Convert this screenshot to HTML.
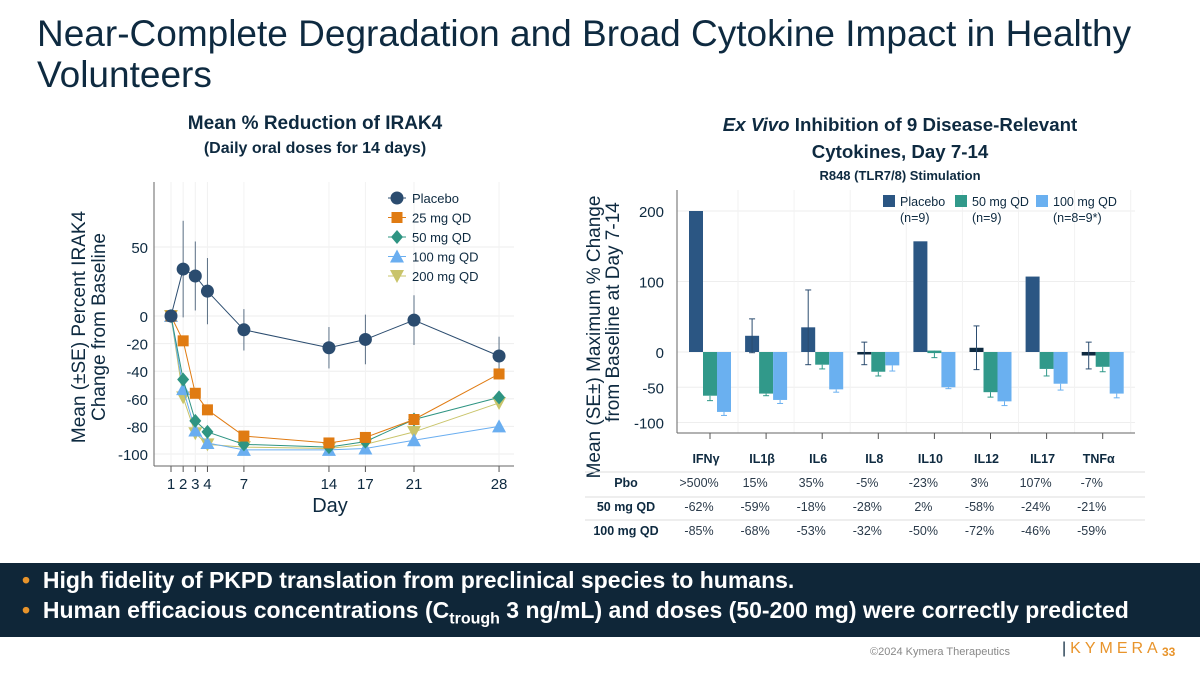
<!DOCTYPE html>
<html><head><meta charset="utf-8"><style>
body{margin:0;width:1200px;height:675px;overflow:hidden;background:#fff;font-family:"Liberation Sans",sans-serif;position:relative;color:#0e2a40}
.abs{position:absolute}
</style></head><body>
<div class="abs" style="left:37px;top:13px;font-size:37px;line-height:41px;color:#0e2a40;width:1150px">Near-Complete Degradation and Broad Cytokine Impact in Healthy Volunteers</div>
<div class="abs" style="left:140px;top:112px;width:350px;text-align:center;font-size:19px;font-weight:bold;line-height:24px">Mean % Reduction of IRAK4<br><span style="font-size:16px">(Daily oral doses for 14 days)</span></div>
<div class="abs" style="left:670px;top:111px;width:460px;text-align:center;font-size:18.7px;font-weight:bold;line-height:27px"><i>Ex Vivo</i> Inhibition of 9 Disease-Relevant<br>Cytokines, Day 7-14</div>
<div class="abs" style="left:690px;top:168px;width:420px;text-align:center;font-size:13px;font-weight:bold">R848 (TLR7/8) Stimulation</div>
<svg class="abs" style="left:0;top:0" width="1200" height="675" id="svg"></svg>
<div class="abs" style="left:0;top:563px;width:1200px;height:74px;background:#0f2638;color:#fff;font-weight:bold;font-size:23px">
<div style="position:absolute;left:22px;top:4px"><span style="color:#e8942b">•</span>&nbsp;&nbsp;High fidelity of PKPD translation from preclinical species to humans.</div>
<div style="position:absolute;left:22px;top:34px;white-space:nowrap"><span style="color:#e8942b">•</span>&nbsp;&nbsp;Human efficacious concentrations (C<sub style="font-size:16px">trough</sub> 3 ng/mL) and doses (50-200 mg) were correctly predicted</div>
</div>
<div class="abs" style="left:870px;top:646px;font-size:11px;color:#888">©2024 Kymera Therapeutics</div>
<div class="abs" style="left:1062px;top:640px;font-size:16px;letter-spacing:4px;color:#e8942b"><span style="color:#0e2a40">|</span>KYMERA</div>
<div class="abs" style="left:1162px;top:645px;font-size:12px;color:#e8942b;font-weight:bold">33</div>
<script>
const days=[1,2,3,4,7,14,17,21,28];
const placebo=[0,34,29,18,-10,-23,-17,-3,-29];
const placeboErr=[2,35,25,24,15,15,18,18,14];
const mg25=[0,-18,-56,-68,-87,-92,-88,-75,-42];
const mg50=[0,-46,-76,-84,-93,-95,-91,-75,-59];
const mg100=[0,-53,-83,-92,-97,-97,-96,-90,-80];
const mg200=[0,-59,-85,-93,-95,-96,-93,-84,-63];
const yTicksL=[50,0,-20,-40,-60,-80,-100];
const cats=["IFNγ","IL1β","IL6","IL8","IL10","IL12","IL17","TNFα"];
const cPbo=[200,23,35,-2,157,6,107,-5];
const cPboErr=[0,24,53,16,0,31,0,19];
const c50=[-62,-59,-18,-28,2,-57,-24,-21];
const c50Err=[7,3,6,6,10,7,10,7];
const c100=[-85,-68,-53,-19,-50,-70,-45,-59];
const c100Err=[5,5,4,8,2,6,9,6];
const yTicksR=[200,100,0,-50,-100];
const rowPbo=[">500%","15%","35%","-5%","-23%","3%","107%","-7%"];
const row50=["-62%","-59%","-18%","-28%","2%","-58%","-24%","-21%"];
const row100=["-85%","-68%","-53%","-32%","-50%","-72%","-46%","-59%"];

const svg=document.getElementById('svg');
const NS='http://www.w3.org/2000/svg';
function mk(t,a,p){const e=document.createElementNS(NS,t);for(const k in a)e.setAttribute(k,a[k]);(p||svg).appendChild(e);return e;}
function tx(x,y,s,a){const e=mk('text',Object.assign({x:x,y:y,'font-family':'Liberation Sans, sans-serif',fill:'#0e2a40'},a||{}));e.textContent=s;return e;}

// LEFT chart
const lx=d=>171+(d-1)*12.15, ly=v=>316-v*1.38;
const gL=mk('g',{});


yTicksL.forEach(v=>{mk('line',{x1:154,x2:514,y1:ly(v),y2:ly(v),stroke:'#eee'},gL);
 const t=tx(148,ly(v)+6,String(v),{'font-size':15,'text-anchor':'end'});gL.appendChild(t);
 });
days.forEach(d=>{mk('line',{x1:lx(d),x2:lx(d),y1:182,y2:466,stroke:'#f2f2f2'},gL);
 mk('line',{x1:lx(d),x2:lx(d),y1:466,y2:472,stroke:'#555'},gL);
 const t=tx(lx(d),489,String(d),{'font-size':15,'text-anchor':'middle'});gL.appendChild(t);
 });
mk('line',{x1:154,x2:154,y1:182,y2:466,stroke:'#666'},gL);
mk('line',{x1:154,x2:514,y1:466,y2:466,stroke:'#666'},gL);
const xt=tx(330,512,'Day',{'font-size':20,'text-anchor':'middle'});

const yt=tx(0,0,'Mean (±SE) Percent IRAK4',{'font-size':19,'text-anchor':'middle',transform:'translate(85,327) rotate(-90)'});

tx(0,0,'Change from Baseline',{'font-size':19,'text-anchor':'middle',transform:'translate(105,327) rotate(-90)'});
placebo.forEach((v,i)=>{mk('line',{x1:lx(days[i]),x2:lx(days[i]),y1:ly(v+placeboErr[i]),y2:ly(v-placeboErr[i]),stroke:'#5a6f85'},gL);});
function marker(shape,x,y,c,p){
 let e;
 if(shape=='circle')e=mk('circle',{cx:x,cy:y,r:6.5,fill:c},p);
 else if(shape=='square')e=mk('rect',{x:x-5.5,y:y-5.5,width:11,height:11,fill:c},p);
 else if(shape=='diamond')e=mk('polygon',{points:`${x},${y-7} ${x+6},${y} ${x},${y+7} ${x-6},${y}`,fill:c},p);
 else if(shape=='up')e=mk('polygon',{points:`${x},${y-7} ${x+7},${y+6} ${x-7},${y+6}`,fill:c},p);
 else e=mk('polygon',{points:`${x-7},${y-6} ${x+7},${y-6} ${x},${y+7}`,fill:c},p);
 return e;}
const series=[['placebo',placebo,'#2b4c6f','circle','Placebo'],['25mg',mg25,'#e07b12','square','25 mg QD'],['50mg',mg50,'#2e9482','diamond','50 mg QD'],['100mg',mg100,'#6aaef0','up','100 mg QD'],['200mg',mg200,'#c9c46a','down','200 mg QD']];
series.slice().reverse().forEach(s=>{
 const g=mk('g',{},gL);
 
 
 mk('polyline',{points:s[1].map((v,i)=>lx(days[i])+','+ly(v)).join(' '),fill:'none',stroke:s[2],'stroke-width':1},g);
 s[1].forEach((v,i)=>{const m=marker(s[3],lx(days[i]),ly(v),s[2],g);
  
  });
});
series.forEach((s,i)=>{const y=198+i*19.5;
 const g=mk('g',{},gL);
 
 
 mk('line',{x1:388,x2:406,y1:y,y2:y,stroke:s[2]},g);
 marker(s[3],397,y,s[2],g);
 const t=tx(412,y+5,s[4],{'font-size':13});g.appendChild(t);});

// RIGHT chart
const rx=i=>710+i*56.1, ry=v=>352-v*0.705, bw=14;
const gR=mk('g',{});


yTicksR.forEach(v=>{mk('line',{x1:677,x2:1135,y1:ry(v),y2:ry(v),stroke:'#eee'},gR);
 const t=tx(664,ry(v)+6,String(v),{'font-size':15,'text-anchor':'end'});gR.appendChild(t);
 });
cats.forEach((c,i)=>mk('line',{x1:rx(i)+28,x2:rx(i)+28,y1:190,y2:433,stroke:'#f2f2f2'},gR));
mk('line',{x1:677,x2:677,y1:190,y2:433,stroke:'#666'},gR);
mk('line',{x1:677,x2:1135,y1:433,y2:433,stroke:'#666'},gR);
const ry1=tx(0,0,'Mean (SE±) Maximum % Change',{'font-size':19,'text-anchor':'middle',transform:'translate(600,337) rotate(-90)'});

tx(0,0,'from Baseline at Day 7-14',{'font-size':19,'text-anchor':'middle',transform:'translate(619,312) rotate(-90)'});
const bs=[['placebo',cPbo,cPboErr,'#2b5683',-1],['50mg',c50,c50Err,'#31998a',0],['100mg',c100,c100Err,'#6ab0f0',1]];
cats.forEach((c,i)=>{
 mk('line',{x1:rx(i),x2:rx(i),y1:433,y2:439,stroke:'#555'},gR);
 bs.forEach(b=>{const v=b[1][i],x=rx(i)+b[4]*bw-bw/2;
  const h=Math.max(Math.abs(ry(v)-ry(0)),2.5);
  const r=mk('rect',{x:x,y:v>=0?ry(v):ry(0),width:bw,height:h,fill:b[0]=='placebo'&&Math.abs(v)<8?'#0e2a40':b[3]},gR);
  
  
  const e=b[2][i];if(e>0){const ec=b[0]=='placebo'?'#2b4c6f':b[3];const cx=x+bw/2;
   mk('line',{x1:cx,x2:cx,y1:ry(b[0]=='placebo'?v+e:v),y2:ry(v-e),stroke:ec},gR);
   mk('line',{x1:cx-3,x2:cx+3,y1:ry(v-e),y2:ry(v-e),stroke:ec},gR);
   if(b[0]=='placebo')mk('line',{x1:cx-3,x2:cx+3,y1:ry(v+e),y2:ry(v+e),stroke:ec},gR);}
 });
 const t=tx(rx(i)-4,463,c,{'font-size':12.5,'font-weight':'bold','text-anchor':'middle'});gR.appendChild(t);
 
});
[['Placebo','(n=9)','#2b5683',883],['50 mg QD','(n=9)','#31998a',955],['100 mg QD','(n=8=9*)','#6ab0f0',1036]].forEach(l=>{
 const g=mk('g',{},gR);
 
 
 mk('rect',{x:l[3],y:195,width:12,height:12,fill:l[2]},g);
 g.appendChild(tx(l[3]+17,206,l[0],{'font-size':12.5}));
 g.appendChild(tx(l[3]+17,222,l[1],{'font-size':12.5}));
});
// table
const gT=mk('g',{});


[472,497,520].forEach(y=>mk('line',{x1:585,x2:1145,y1:y,y2:y,stroke:'#ddd'},gT));
[['Pbo',rowPbo,487],['50 mg QD',row50,511],['100 mg QD',row100,535]].forEach(r=>{
 gT.appendChild(tx(626,r[2],r[0],{'font-size':12.5,'font-weight':'bold','text-anchor':'middle'}));
 r[1].forEach((s,i)=>gT.appendChild(tx(rx(i)-11,r[2],s,{'font-size':12.5,'text-anchor':'middle',fill:'#2a3a4a'})));
});
</script>
</body></html>
